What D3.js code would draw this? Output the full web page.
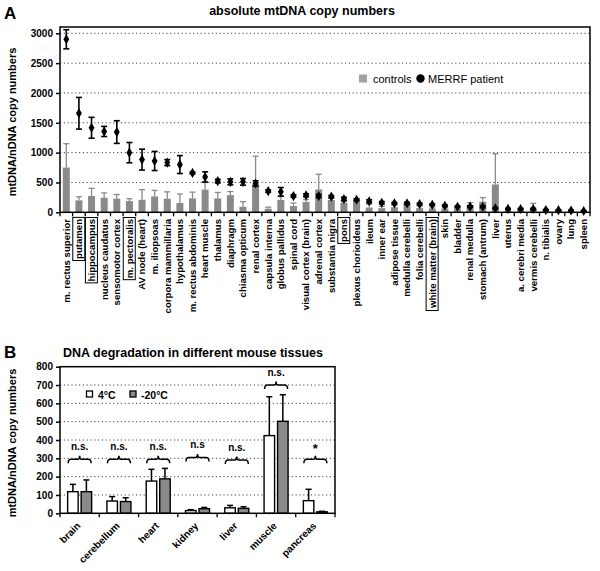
<!DOCTYPE html>
<html>
<head>
<meta charset="utf-8">
<script src="https://cdnjs.cloudflare.com/ajax/libs/d3/7.8.5/d3.min.js"></script>
<style>
  body { margin: 0; background: #fff; }
  svg { font-family: "Liberation Sans", Arial, sans-serif; }
</style>
</head>
<body>
<div id="chart"></div>
<script>
// Panel A data
const tissues = ["m. rectus superior", "putamen", "hippocampus", "nucleus caudatus", "sensomotor cortex",
  "m. pectoralis", "AV node (heart)", "m. iliopsoas", "corpora mammillaria", "hypothalamus",
  "m. rectus abdominis", "heart muscle", "thalamus", "diaphragm", "chiasma opticum", "renal cortex",
  "capsula interna", "globus pallidus", "spinal cord", "visual cortex (brain)", "adrenal cortex",
  "substantia nigra", "pons", "plexus chorioideus", "ileum", "inner ear", "adipose tissue",
  "medulla cerebelli", "folia cerebelli", "white matter (brain)", "skin", "bladder", "renal medulla",
  "stomach (antrum)", "liver", "uterus", "a. cerebri media", "vermis cerebelli", "n. tibialis",
  "ovary", "lung", "spleen"];
const boxedTissues = ["putamen", "hippocampus", "m. pectoralis", "pons", "white matter (brain)"];
const controlMean = [750, 200, 272, 245, 228, 188, 210, 267, 228, 155, 233, 380, 233, 288, 93, 470,
  60, 205, 105, 172, 383, 205, 160, 210, 80, 70, 85, 155, 70, 55, 62, 62, 122, 177, 467, 22, 30, 60,
  22, 18, 14, 10];
const controlErr = [400, 60, 130, 80, 70, 40, 170, 100, 115, 150, 105, 120, 100, 60, 85, 470, 25, 60,
  50, 40, 255, 30, 40, 20, 55, 30, 35, 20, 35, 15, 15, 15, 40, 70, 516, 10, 10, 90, 10, 8, 6, 5];
const patientMean = [2900, 1660, 1417, 1355, 1345, 1000, 883, 860, 833, 800, 660, 593, 522, 510, 510,
  483, 355, 343, 272, 285, 272, 262, 222, 210, 185, 160, 150, 148, 138, 127, 110, 93, 95, 93, 67, 57,
  55, 55, 38, 35, 30, 22];
const patientErr = [160, 265, 175, 85, 190, 170, 175, 160, 50, 150, 15, 85, 30, 50, 55, 45, 20, 72, 20,
  25, 25, 20, 30, 15, 25, 20, 15, 15, 15, 15, 12, 12, 15, 15, 10, 10, 10, 12, 8, 8, 6, 6];
const ticksA = [0, 500, 1000, 1500, 2000, 2500, 3000];

// Panel B data
const organs = ["brain", "cerebellum", "heart", "kidney", "liver", "muscle", "pancreas"];
const mean4 = [118, 67, 176, 15, 30, 424, 69];
const err4 = [40, 24, 64, 5, 13, 212, 62];
const mean20 = [118, 64, 188, 25, 27, 502, 8];
const err20 = [64, 21, 57, 7, 9, 145, 3];
const sigLabels = ["n.s.", "n.s.", "n.s.", "n.s", "n.s.", "n.s.", "*"];
const bracketLevel = [295, 295, 295, 305, 291, 700, 295];
const ticksB = [0, 100, 200, 300, 400, 500, 600, 700, 800];

const W = 600, H = 571;
const svg = d3.select('#chart').append('svg')
  .attr('width', W).attr('height', H)
  .attr('viewBox', [0, 0, W, H]);

const gray = '#8a8a8a';

// ---------- Panel A ----------
const A = {left: 60, right: 590, top: 27, bottom: 212.3};
const xA = d3.scaleBand().domain(tissues).range([A.left, A.right]);
const yA = d3.scaleLinear().domain([0, 3000]).range([A.bottom, 33.3]);

svg.append('text').attr('x', 4).attr('y', 19)
  .style('font-size', '17px').style('font-weight', 'bold').text('A');
svg.append('text').attr('x', 302).attr('y', 15).attr('text-anchor', 'middle')
  .style('font-size', '12.5px').style('font-weight', 'bold').text('absolute mtDNA copy numbers');

const gA = svg.append('g');

// dotted grid
gA.append('g').selectAll('line')
  .data(ticksA.filter(d => d > 0))
  .join('line')
  .attr('x1', A.left).attr('x2', A.right)
  .attr('y1', d => yA(d)).attr('y2', d => yA(d))
  .attr('stroke', '#444').attr('stroke-width', 1)
  .attr('stroke-dasharray', '1.2,2.6');

// y axis
const yAxisA = gA.append('g').attr('transform', `translate(${A.left},0)`)
  .call(d3.axisLeft(yA).tickValues(ticksA).tickSize(4).tickPadding(3).tickFormat(d3.format('d')));
yAxisA.select('.domain').remove();
yAxisA.selectAll('line').attr('stroke-width', 1.5);
yAxisA.selectAll('text').style('font-size', '10px').style('font-weight', 'bold').attr('fill', '#000');

// x ticks at band boundaries
const boundsA = tissues.map(t => xA(t)).concat([A.right]);
gA.append('g').selectAll('line')
  .data(boundsA)
  .join('line')
  .attr('x1', d => d).attr('x2', d => d)
  .attr('y1', A.bottom).attr('y2', A.bottom + 4)
  .attr('stroke', '#000').attr('stroke-width', 1.3);

// control bars
const barW = 7;
gA.append('g').selectAll('rect')
  .data(tissues)
  .join('rect')
  .attr('x', (d) => xA(d) + xA.bandwidth() / 2 - barW / 2)
  .attr('width', barW)
  .attr('y', (d, i) => yA(controlMean[i]))
  .attr('height', (d, i) => A.bottom - yA(controlMean[i]))
  .attr('fill', gray);

// control error bars (upward)
const ceb = gA.append('g').attr('stroke', gray).attr('stroke-width', 1.3);
tissues.forEach((t, i) => {
  const cx = xA(t) + xA.bandwidth() / 2;
  const y1 = yA(controlMean[i]), y2 = yA(controlMean[i] + controlErr[i]);
  ceb.append('line').attr('x1', cx).attr('x2', cx).attr('y1', y1).attr('y2', y2);
  ceb.append('line').attr('x1', cx - 3).attr('x2', cx + 3).attr('y1', y2).attr('y2', y2);
});

// patient error bars and markers
const peb = gA.append('g').attr('stroke', '#000').attr('stroke-width', 1.6);
tissues.forEach((t, i) => {
  const cx = xA(t) + xA.bandwidth() / 2;
  const lo = yA(patientMean[i] - patientErr[i]), hi = yA(patientMean[i] + patientErr[i]);
  peb.append('line').attr('x1', cx).attr('x2', cx).attr('y1', lo).attr('y2', hi);
  peb.append('line').attr('x1', cx - 3).attr('x2', cx + 3).attr('y1', lo).attr('y2', lo);
  peb.append('line').attr('x1', cx - 3).attr('x2', cx + 3).attr('y1', hi).attr('y2', hi);
});
gA.append('g').selectAll('path')
  .data(tissues)
  .join('path')
  .attr('d', d3.symbol(d3.symbolDiamond, 30))
  .attr('transform', (d, i) => `translate(${xA(d) + xA.bandwidth() / 2},${yA(patientMean[i])})`)
  .attr('fill', '#000');

// frame
gA.append('rect')
  .attr('x', A.left).attr('y', A.top)
  .attr('width', A.right - A.left).attr('height', A.bottom - A.top)
  .attr('fill', 'none').attr('stroke', '#000').attr('stroke-width', 1.5);

// legend
svg.append('rect').attr('x', 359).attr('y', 74.5).attr('width', 8).attr('height', 8).attr('fill', '#a0a0a0');
svg.append('text').attr('x', 373).attr('y', 82.5).style('font-size', '11px').text('controls');
svg.append('circle').attr('cx', 420.5).attr('cy', 78.5).attr('r', 4.2).attr('fill', '#000');
svg.append('text').attr('x', 428).attr('y', 82.5).style('font-size', '11px').text('MERRF patient');

// rotated tissue labels
const labA = gA.append('g').selectAll('g')
  .data(tissues)
  .join('g')
  .attr('transform', d => `translate(${xA(d) + xA.bandwidth() / 2},219) rotate(-90)`);
labA.append('text')
  .attr('text-anchor', 'end')
  .attr('dy', '0.35em')
  .style('font-size', '9.6px').style('font-weight', 'bold')
  .text(d => d);
labA.filter(d => boxedTissues.includes(d)).each(function () {
  const g = d3.select(this);
  const b = g.select('text').node().getBBox();
  g.append('rect')
    .attr('x', b.x - 1.5).attr('y', b.y - 0.5)
    .attr('width', b.width + 3).attr('height', b.height + 1)
    .attr('fill', 'none').attr('stroke', '#000').attr('stroke-width', 1);
});

// y label A
svg.append('text')
  .attr('transform', 'translate(16,122) rotate(-90)')
  .attr('text-anchor', 'middle')
  .style('font-size', '11px').style('font-weight', 'bold')
  .text('mtDNA/nDNA copy numbers');

// ---------- Panel B ----------
const B = {left: 60, right: 335, top: 366.7, bottom: 513.3};
const xB = d3.scaleBand().domain(organs).range([B.left, B.right]);
const yB = d3.scaleLinear().domain([0, 800]).range([B.bottom, B.top]);

svg.append('text').attr('x', 4).attr('y', 358)
  .style('font-size', '17px').style('font-weight', 'bold').text('B');
svg.append('text').attr('x', 63).attr('y', 357)
  .style('font-size', '12.5px').style('font-weight', 'bold').text('DNA degradation in different mouse tissues');

const gB = svg.append('g');

gB.append('g').selectAll('line')
  .data(ticksB.filter(d => d > 0 && d < 800))
  .join('line')
  .attr('x1', B.left).attr('x2', B.right)
  .attr('y1', d => yB(d)).attr('y2', d => yB(d))
  .attr('stroke', '#444').attr('stroke-width', 1)
  .attr('stroke-dasharray', '1.2,2.6');

const yAxisB = gB.append('g').attr('transform', `translate(${B.left},0)`)
  .call(d3.axisLeft(yB).tickValues(ticksB).tickSize(4).tickPadding(3));
yAxisB.select('.domain').remove();
yAxisB.selectAll('line').attr('stroke-width', 1.5);
yAxisB.selectAll('text').style('font-size', '10px').style('font-weight', 'bold').attr('fill', '#000');

const boundsB = organs.map(o => xB(o)).concat([B.right]);
gB.append('g').selectAll('line')
  .data(boundsB)
  .join('line')
  .attr('x1', d => d).attr('x2', d => d)
  .attr('y1', B.bottom).attr('y2', B.bottom + 4)
  .attr('stroke', '#000').attr('stroke-width', 1.3);

const bw = 10.5, gap = 3;
const series = [
  {mean: mean4, err: err4, fill: '#fff', off: -gap / 2 - bw},
  {mean: mean20, err: err20, fill: '#8a8a8a', off: gap / 2}
];
series.forEach(s => {
  const g = gB.append('g');
  organs.forEach((o, i) => {
    const cx = xB(o) + xB.bandwidth() / 2;
    const x = cx + s.off;
    const top = yB(s.mean[i]), et = yB(s.mean[i] + s.err[i]);
    g.append('line').attr('x1', x + bw / 2).attr('x2', x + bw / 2).attr('y1', top).attr('y2', et)
      .attr('stroke', '#000').attr('stroke-width', 1.5);
    g.append('line').attr('x1', x + bw / 2 - 3).attr('x2', x + bw / 2 + 3).attr('y1', et).attr('y2', et)
      .attr('stroke', '#000').attr('stroke-width', 1.5);
    g.append('rect').attr('x', x).attr('width', bw)
      .attr('y', top).attr('height', B.bottom - top)
      .attr('fill', s.fill).attr('stroke', '#000').attr('stroke-width', 1.4);
  });
});

// significance brackets
organs.forEach((o, i) => {
  const cx = xB(o) + xB.bandwidth() / 2;
  const l = cx - 11.5, r = cx + 11.5, y = yB(bracketLevel[i]);
  gB.append('path')
    .attr('d', `M${l},${y + 4} Q${l},${y} ${l + 3},${y} L${cx - 2},${y} Q${cx},${y} ${cx},${y - 3.5} Q${cx},${y} ${cx + 2},${y} L${r - 3},${y} Q${r},${y} ${r},${y + 4}`)
    .attr('fill', 'none').attr('stroke', '#000').attr('stroke-width', 1.5);
  gB.append('text').attr('x', cx).attr('y', y - (sigLabels[i] === '*' ? 6 : 9))
    .attr('text-anchor', 'middle')
    .style('font-size', sigLabels[i] === '*' ? '13px' : '10px').style('font-weight', 'bold')
    .text(sigLabels[i]);
});

gB.append('rect')
  .attr('x', B.left).attr('y', B.top)
  .attr('width', B.right - B.left).attr('height', B.bottom - B.top)
  .attr('fill', 'none').attr('stroke', '#000').attr('stroke-width', 1.5);

// legend B
svg.append('rect').attr('x', 86.5).attr('y', 391).attr('width', 6).attr('height', 6)
  .attr('fill', '#fff').attr('stroke', '#000').attr('stroke-width', 1.3);
svg.append('text').attr('x', 98).attr('y', 398.5).style('font-size', '10.5px').style('font-weight', 'bold').text('4°C');
svg.append('rect').attr('x', 130).attr('y', 391).attr('width', 6).attr('height', 6)
  .attr('fill', '#8a8a8a').attr('stroke', '#000').attr('stroke-width', 1.3);
svg.append('text').attr('x', 141).attr('y', 398.5).style('font-size', '10.5px').style('font-weight', 'bold').text('-20°C');

// rotated organ labels
gB.append('g').selectAll('text')
  .data(organs)
  .join('text')
  .attr('transform', d => `translate(${xB(d) + xB.bandwidth() / 2 - 1},524) rotate(-45)`)
  .attr('text-anchor', 'end')
  .attr('dy', '0.35em')
  .style('font-size', '10px').style('font-weight', 'bold')
  .text(d => d);

svg.append('text')
  .attr('transform', 'translate(16,443) rotate(-90)')
  .attr('text-anchor', 'middle')
  .style('font-size', '11px').style('font-weight', 'bold')
  .text('mtDNA/nDNA copy numbers');
</script>
</body>
</html>
